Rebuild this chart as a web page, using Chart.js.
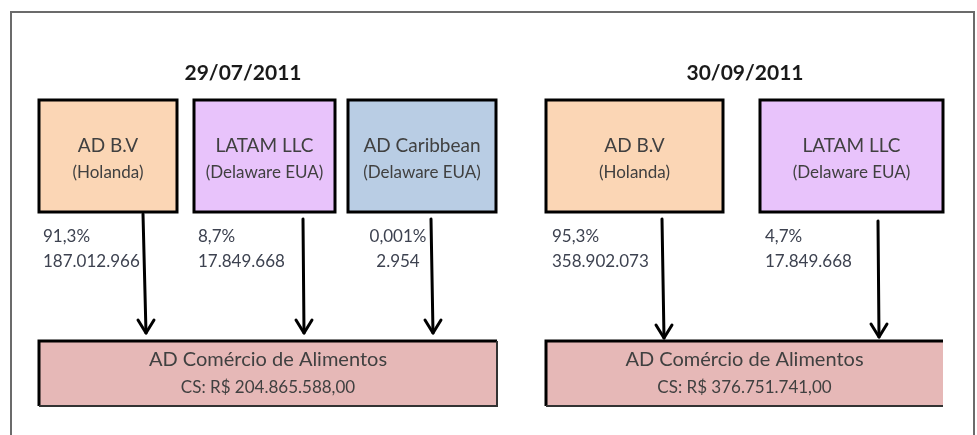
<!DOCTYPE html>
<html>
<head>
<meta charset="utf-8">
<script src="https://cdn.jsdelivr.net/npm/chart.js@4/dist/chart.umd.min.js"></script>
<style>
  html, body { margin: 0; padding: 0; background: #ffffff; }
  canvas { display: block; }
</style>
</head>
<body>
<canvas id="c" width="977" height="435"></canvas>
<script>
// ---- data ----
const dates = ['29/07/2011', '30/09/2011'];
const entities = ['AD B.V', 'LATAM LLC', 'AD Caribbean', 'AD B.V', 'LATAM LLC'];
const jurisdictions = ['(Holanda)', '(Delaware EUA)', '(Delaware EUA)', '(Holanda)', '(Delaware EUA)'];
const sharePercents = ['91,3%', '8,7%', '0,001%', '95,3%', '4,7%'];
const shareValues = ['187.012.966', '17.849.668', '2.954', '358.902.073', '17.849.668'];
const targetNames = ['AD Comércio de Alimentos', 'AD Comércio de Alimentos'];
const capitals = ['CS: R$ 204.865.588,00', 'CS: R$ 376.751.741,00'];

// ---- layout (positions / styles, in axis units) ----
const layout = {
  frame: { left: 11, top: 12, right: 974, bottom: 435 },
  titleX: [243, 745], titleY: 73,
  boxes: [[39, 177], [194, 335], [348, 496], [546, 723], [760, 943]],
  boxTop: 100, boxBottom: 212, nameY: 146, subY: 173,
  fills: ['#FBD6B5', '#E8C3FB', '#B9CDE4', '#FBD6B5', '#E8C3FB'],
  labelX: [43, 198, 398, 552, 765], labelAlign: ['left', 'left', 'center', 'left', 'left'],
  pctY: 237, valY: 262,
  arrowX: [[143, 146], [303, 304], [431, 433], [662, 664], [878, 879]],
  arrowTop: [214, 219, 219, 219, 221], arrowTip: [333, 333, 333, 338, 337],
  targets: [[39, 497, true], [546, 943, false]],
  targetTop: 341, targetBottom: 406, tNameY: 360, tCapY: 388
};

const diagramPlugin = {
  id: 'diagram',
  afterDraw(chart) {
    const ctx = chart.ctx;
    const sx = chart.scales.x, sy = chart.scales.y;
    const X = v => sx.getPixelForValue(v);
    const Y = v => sy.getPixelForValue(v);
    const L = layout;
    ctx.save();

    // outer frame
    ctx.strokeStyle = '#6b6b6b';
    ctx.lineWidth = 2;
    ctx.beginPath();
    ctx.moveTo(X(L.frame.left), Y(L.frame.bottom));
    ctx.lineTo(X(L.frame.left), Y(L.frame.top));
    ctx.lineTo(X(L.frame.right), Y(L.frame.top));
    ctx.lineTo(X(L.frame.right), Y(L.frame.bottom));
    ctx.stroke();

    // date titles
    ctx.fillStyle = '#1a1a1a';
    ctx.font = 'bold 21px Lato';
    ctx.textAlign = 'center';
    ctx.textBaseline = 'middle';
    dates.forEach((d, i) => ctx.fillText(d, X(L.titleX[i]), Y(L.titleY)));

    // owner boxes
    entities.forEach((name, i) => {
      const [x0, x1] = L.boxes[i];
      const left = X(x0), right = X(x1), top = Y(L.boxTop), bottom = Y(L.boxBottom);
      ctx.fillStyle = L.fills[i];
      ctx.fillRect(left, top, right - left, bottom - top);
      ctx.strokeStyle = '#000000';
      ctx.lineWidth = 3;
      ctx.strokeRect(left, top, right - left, bottom - top);
      ctx.fillStyle = '#404040';
      ctx.textAlign = 'center';
      ctx.font = '19px Lato';
      ctx.fillText(name, (left + right) / 2, Y(L.nameY));
      ctx.font = '17px Lato';
      ctx.fillText(jurisdictions[i], (left + right) / 2, Y(L.subY));
    });

    // share labels
    ctx.font = '17px Lato';
    ctx.fillStyle = '#3d4250';
    sharePercents.forEach((p, i) => {
      ctx.textAlign = L.labelAlign[i];
      ctx.fillText(p, X(L.labelX[i]), Y(L.pctY));
      ctx.fillText(shareValues[i], X(L.labelX[i]), Y(L.valY));
    });

    // arrows
    ctx.strokeStyle = '#000000';
    ctx.lineWidth = 3;
    ctx.lineCap = 'round';
    ctx.lineJoin = 'round';
    L.arrowX.forEach(([xt, xb], i) => {
      const x0 = X(xt), x1 = X(xb), y0 = Y(L.arrowTop[i]), y1 = Y(L.arrowTip[i]);
      ctx.beginPath();
      ctx.moveTo(x0, y0);
      ctx.lineTo(x1, y1);
      ctx.stroke();
      ctx.beginPath();
      ctx.moveTo(x1 - 8, y1 - 13);
      ctx.lineTo(x1, y1);
      ctx.lineTo(x1 + 8, y1 - 13);
      ctx.stroke();
    });
    ctx.lineCap = 'butt';
    ctx.lineJoin = 'miter';

    // target boxes
    L.targets.forEach(([x0, x1, closed], i) => {
      const left = X(x0), right = X(x1), top = Y(L.targetTop), bottom = Y(L.targetBottom);
      ctx.fillStyle = '#E6B8B7';
      ctx.fillRect(left, top, right - left, bottom - top);
      ctx.strokeStyle = '#000000';
      ctx.lineWidth = 3;
      ctx.beginPath();
      ctx.moveTo(right, top);
      ctx.lineTo(left, top);
      ctx.lineTo(left, bottom);
      ctx.stroke();
      ctx.strokeStyle = '#333333';
      ctx.lineWidth = 2;
      ctx.beginPath();
      ctx.moveTo(left, bottom);
      ctx.lineTo(right, bottom);
      if (closed) ctx.lineTo(right, top);
      ctx.stroke();
      ctx.fillStyle = '#404040';
      ctx.textAlign = 'center';
      ctx.font = '20px Lato';
      ctx.fillText(targetNames[i], (left + right) / 2, Y(L.tNameY));
      ctx.font = '17px Lato';
      ctx.fillText(capitals[i], (left + right) / 2, Y(L.tCapY));
    });

    ctx.restore();
  }
};

new Chart(document.getElementById('c'), {
  type: 'scatter',
  data: { datasets: [{ data: [], showLine: false }] },
  options: {
    responsive: false,
    animation: false,
    layout: { padding: 0 },
    plugins: { legend: { display: false }, tooltip: { enabled: false }, title: { display: false } },
    scales: {
      x: { type: 'linear', min: 0, max: 977, display: false },
      y: { type: 'linear', min: 0, max: 435, reverse: true, display: false }
    }
  },
  plugins: [diagramPlugin]
});
</script>
</body>
</html>
